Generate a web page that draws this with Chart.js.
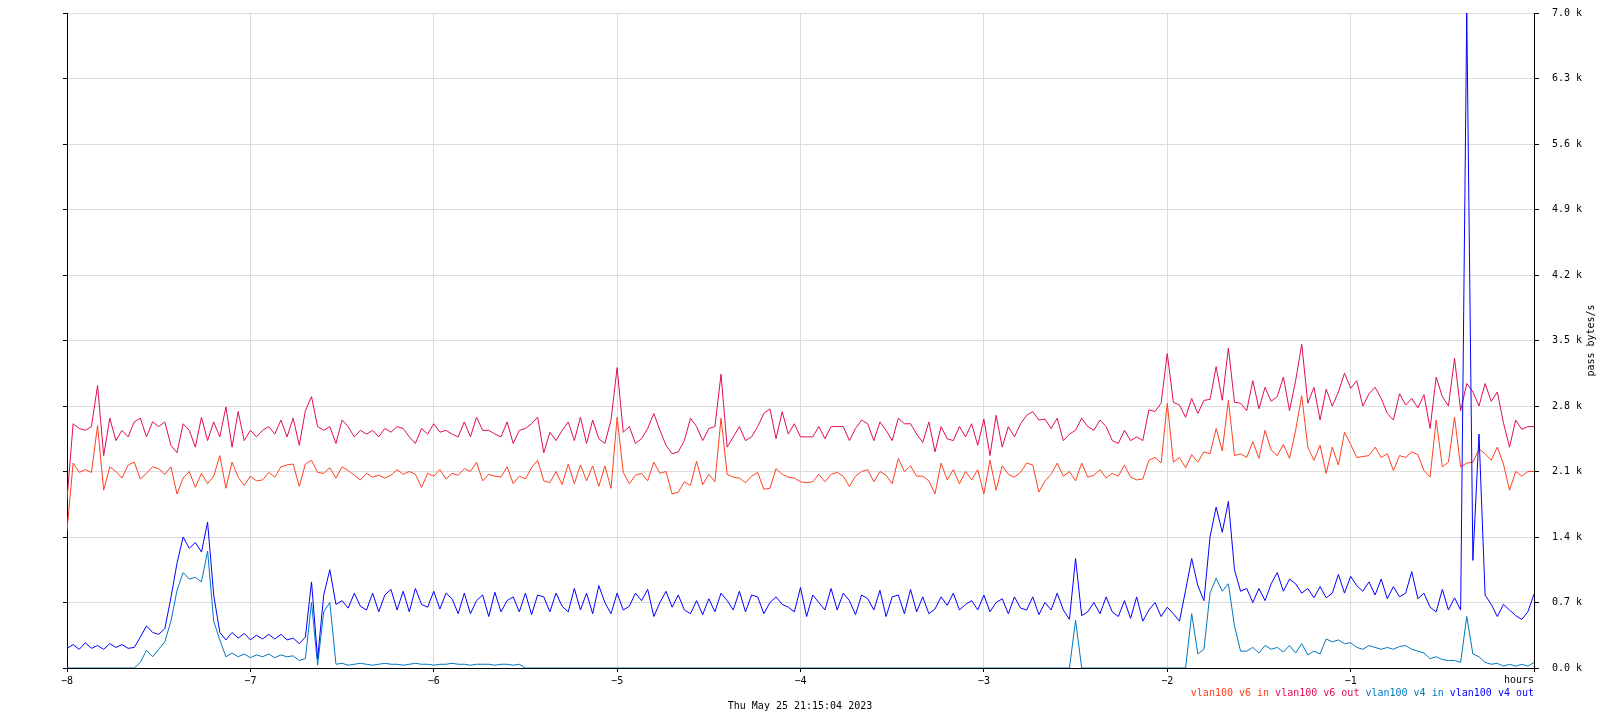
<!DOCTYPE html>
<html>
<head>
<meta charset="utf-8">
<title>vlan100 pass bytes/s</title>
<script src="https://cdn.jsdelivr.net/npm/chart.js@4"></script>
<style>
  html, body { margin: 0; padding: 0; background: #fff; }
  canvas { display: block; }
</style>
</head>
<body>
<canvas id="trafficChart" width="1600" height="720"></canvas>
<script>
// one sample every 2 minutes, last 8 hours (values in k bytes/s)
const hoursStart = -8;
const stepHours = 1 / 30;
const hourTicks = [-8, -7, -6, -5, -4, -3, -2, -1, 0];
const yTickStep = 0.7;
const yMax = 7.0;
const stampText = 'Thu May 25 21:15:04 2023';

const seriesNames = ['vlan100 v6 in', 'vlan100 v6 out', 'vlan100 v4 in', 'vlan100 v4 out'];
const seriesColors = ['#ff4020', '#e00c58', '#0077c0', '#0000ff'];

const v6In = [
	1.47, 2.19, 2.09, 2.12, 2.09, 2.59, 1.90, 2.15, 2.10, 2.03, 2.17, 2.20, 2.02, 2.08, 2.15, 2.13,
	2.07, 2.15, 1.86, 2.03, 2.10, 1.93, 2.08, 1.97, 2.05, 2.27, 1.92, 2.20, 2.04, 1.95, 2.05, 2.00,
	2.01, 2.09, 2.04, 2.15, 2.17, 2.18, 1.94, 2.18, 2.22, 2.09, 2.08, 2.14, 2.03, 2.15, 2.11,
	2.06, 2.01, 2.08, 2.04, 2.06, 2.03, 2.06, 2.12, 2.07, 2.10, 2.07, 1.93, 2.08, 2.05, 2.12, 2.02,
	2.08, 2.06, 2.13, 2.10, 2.20, 2.00, 2.07, 2.05, 2.04, 2.15, 1.97, 2.05, 2.02, 2.14, 2.22, 2.00,
	1.98, 2.10, 1.96, 2.18, 1.97, 2.17, 2.00, 2.16, 1.94, 2.16, 1.92, 2.68, 2.09, 1.97, 2.06,
	2.08, 2.00, 2.20, 2.08, 2.10, 1.86, 1.88, 1.99, 1.95, 2.21, 1.96, 2.07, 1.99, 2.67, 2.07, 2.04,
	2.03, 1.98, 2.05, 2.09, 1.91, 1.92, 2.13, 2.07, 2.04, 2.03, 1.99, 1.98, 1.99, 2.07, 1.99, 2.07,
	2.09, 2.05, 1.94, 2.05, 2.10, 2.12, 1.99, 2.10, 2.06, 1.97, 2.24, 2.10, 2.16, 2.05,
	2.05, 2.00, 1.86, 2.19, 2.01, 2.12, 1.97, 2.10, 2.01, 2.12, 1.86, 2.22, 1.90, 2.16, 2.07, 2.04,
	2.09, 2.19, 2.17, 1.88, 2.00, 2.07, 2.19, 2.05, 2.10, 2.00, 2.19, 2.04, 2.06, 2.12, 2.03, 2.08,
	2.05, 2.17, 2.04, 2.01, 2.02, 2.22, 2.25, 2.19, 2.83, 2.20, 2.25, 2.14, 2.28, 2.20, 2.31,
	2.29, 2.56, 2.32, 2.86, 2.27, 2.29, 2.25, 2.42, 2.24, 2.54, 2.33, 2.27, 2.39, 2.24, 2.54, 2.91,
	2.36, 2.22, 2.38, 2.08, 2.36, 2.17, 2.52, 2.39, 2.25, 2.26, 2.27, 2.36, 2.25, 2.29, 2.11, 2.27,
	2.25, 2.31, 2.28, 2.11, 2.04, 2.65, 2.15, 2.20, 2.68, 2.15, 2.19, 2.20, 2.34, 2.29, 2.22, 2.36,
	2.18, 1.90, 2.10, 2.05, 2.10, 2.10
];

const v6Out = [
	1.80, 2.61, 2.56, 2.54, 2.58, 3.02, 2.27, 2.67, 2.43, 2.54, 2.47, 2.63, 2.67, 2.47, 2.63, 2.58,
	2.63, 2.38, 2.30, 2.61, 2.54, 2.36, 2.68, 2.43, 2.63, 2.47, 2.79, 2.36, 2.74, 2.43, 2.54, 2.47,
	2.54, 2.58, 2.50, 2.65, 2.47, 2.67, 2.38, 2.75, 2.90, 2.58, 2.54, 2.58, 2.40, 2.65, 2.58,
	2.47, 2.54, 2.50, 2.54, 2.47, 2.56, 2.52, 2.58, 2.56, 2.47, 2.40, 2.56, 2.50, 2.61, 2.52, 2.54,
	2.50, 2.47, 2.63, 2.47, 2.68, 2.54, 2.54, 2.50, 2.47, 2.63, 2.40, 2.54, 2.56, 2.61, 2.68, 2.30,
	2.52, 2.43, 2.54, 2.63, 2.43, 2.68, 2.40, 2.65, 2.45, 2.40, 2.65, 3.21, 2.52, 2.58, 2.40,
	2.45, 2.56, 2.72, 2.54, 2.38, 2.29, 2.31, 2.43, 2.67, 2.58, 2.43, 2.56, 2.58, 3.14, 2.36, 2.47,
	2.58, 2.43, 2.47, 2.58, 2.72, 2.77, 2.45, 2.74, 2.50, 2.61, 2.47, 2.47, 2.47, 2.58, 2.45, 2.58,
	2.58, 2.58, 2.43, 2.56, 2.65, 2.61, 2.43, 2.63, 2.54, 2.43, 2.67, 2.61, 2.61, 2.50,
	2.41, 2.63, 2.31, 2.58, 2.45, 2.43, 2.58, 2.47, 2.61, 2.38, 2.66, 2.27, 2.70, 2.36, 2.58, 2.47,
	2.61, 2.70, 2.74, 2.65, 2.66, 2.56, 2.67, 2.43, 2.50, 2.54, 2.67, 2.58, 2.54, 2.65, 2.58, 2.43,
	2.40, 2.54, 2.43, 2.47, 2.43, 2.76, 2.74, 2.83, 3.36, 2.84, 2.81, 2.68, 2.88, 2.72, 2.86,
	2.87, 3.22, 2.86, 3.42, 2.84, 2.83, 2.75, 3.07, 2.77, 3.00, 2.85, 2.90, 3.11, 2.75, 3.07, 3.46,
	2.83, 3.00, 2.65, 2.98, 2.80, 2.95, 3.15, 2.99, 3.07, 2.80, 2.93, 3.00, 2.88, 2.72, 2.65, 2.93,
	2.81, 2.88, 2.78, 2.92, 2.56, 3.11, 2.90, 2.80, 3.31, 2.75, 3.04, 2.95, 2.80, 3.04, 2.85, 2.95,
	2.62, 2.36, 2.65, 2.55, 2.58, 2.58
];

const v4In = [
	0, 0, 0, 0, 0, 0, 0, 0, 0, 0, 0, 0, 0.06, 0.19, 0.12, 0.20,
	0.28, 0.50, 0.83, 1.02, 0.95, 0.97, 0.92, 1.25, 0.50, 0.30, 0.12, 0.16, 0.12, 0.15, 0.11, 0.14,
	0.12, 0.15, 0.11, 0.14, 0.12, 0.13, 0.08, 0.10, 0.70, 0.03, 0.60, 0.70, 0.04, 0.05, 0.03,
	0.04, 0.05, 0.04, 0.03, 0.04, 0.05, 0.04, 0.04, 0.03, 0.04, 0.05, 0.04, 0.04, 0.03, 0.04, 0.04,
	0.05, 0.04, 0.04, 0.03, 0.04, 0.04, 0.04, 0.03, 0.04, 0.04, 0.03, 0.04,
	0, 0, 0, 0, 0, 0, 0, 0, 0, 0, 0, 0, 0, 0, 0,
	0, 0, 0, 0, 0, 0, 0, 0, 0, 0, 0, 0, 0, 0, 0,
	0, 0, 0, 0, 0, 0, 0, 0, 0, 0, 0, 0, 0, 0, 0,
	0, 0, 0, 0, 0, 0, 0, 0, 0, 0, 0, 0, 0, 0, 0,
	0, 0, 0, 0, 0, 0, 0, 0, 0, 0, 0, 0, 0, 0, 0,
	0, 0, 0, 0, 0, 0, 0, 0, 0, 0, 0, 0, 0, 0, 0,
	0.51,
	0, 0, 0, 0, 0, 0, 0, 0, 0, 0, 0, 0, 0, 0, 0, 0, 0, 0,
	0.58, 0.15, 0.20,
	0.80, 0.96, 0.82, 0.90, 0.45, 0.18, 0.18, 0.22, 0.16, 0.24, 0.20, 0.22, 0.17, 0.24, 0.16, 0.26,
	0.14, 0.18, 0.15, 0.31, 0.28, 0.30, 0.26, 0.27, 0.22, 0.20, 0.24, 0.22, 0.20, 0.22, 0.20, 0.23,
	0.24, 0.20, 0.18, 0.16, 0.10, 0.12, 0.09, 0.08, 0.08, 0.06, 0.55, 0.15, 0.12, 0.06, 0.04, 0.05,
	0.02, 0.04, 0.02, 0.04, 0.02, 0.06
];

const v4Out = [
	0.21, 0.25, 0.20, 0.27, 0.21, 0.24, 0.20, 0.26, 0.22, 0.25, 0.21, 0.22, 0.33, 0.45, 0.38, 0.36,
	0.42, 0.75, 1.12, 1.40, 1.28, 1.34, 1.24, 1.56, 0.78, 0.38, 0.30, 0.38, 0.32, 0.37, 0.30, 0.35,
	0.31, 0.36, 0.31, 0.36, 0.30, 0.32, 0.26, 0.33, 0.92, 0.10, 0.78, 1.05, 0.68, 0.72, 0.64,
	0.80, 0.66, 0.62, 0.80, 0.60, 0.78, 0.84, 0.62, 0.82, 0.60, 0.85, 0.68, 0.65, 0.82, 0.63, 0.80,
	0.74, 0.58, 0.80, 0.58, 0.72, 0.78, 0.55, 0.81, 0.60, 0.72, 0.76, 0.60, 0.80, 0.57, 0.78, 0.76,
	0.60, 0.80, 0.66, 0.60, 0.85, 0.62, 0.80, 0.58, 0.88, 0.70, 0.58, 0.80, 0.62, 0.66, 0.80,
	0.72, 0.84, 0.55, 0.70, 0.82, 0.65, 0.78, 0.62, 0.58, 0.72, 0.57, 0.74, 0.60, 0.80, 0.72, 0.62,
	0.82, 0.60, 0.78, 0.76, 0.58, 0.70, 0.76, 0.68, 0.65, 0.60, 0.86, 0.55, 0.78, 0.70, 0.62, 0.85,
	0.62, 0.80, 0.72, 0.57, 0.78, 0.74, 0.62, 0.83, 0.55, 0.76, 0.78, 0.58, 0.84, 0.60,
	0.76, 0.58, 0.63, 0.76, 0.67, 0.80, 0.62, 0.68, 0.72, 0.62, 0.78, 0.60, 0.70, 0.74, 0.58, 0.76,
	0.64, 0.62, 0.76, 0.57, 0.70, 0.62, 0.80, 0.62, 0.52, 1.17, 0.56, 0.60, 0.70, 0.58, 0.76, 0.60,
	0.55, 0.72, 0.53, 0.76, 0.50, 0.62, 0.70, 0.55, 0.65, 0.58, 0.50, 0.83, 1.17, 0.88, 0.72,
	1.40, 1.72, 1.45, 1.78, 1.05, 0.82, 0.85, 0.70, 0.85, 0.72, 0.90, 1.02, 0.82, 0.95, 0.90, 0.80,
	0.85, 0.75, 0.87, 0.75, 0.80, 1.00, 0.80, 0.98, 0.88, 0.82, 0.92, 0.78, 0.95, 0.74, 0.87, 0.76,
	0.80, 1.03, 0.74, 0.80, 0.65, 0.60, 0.84, 0.62, 0.75, 0.62, 7.00, 1.15, 2.50, 0.78, 0.68, 0.55,
	0.68, 0.62, 0.56, 0.52, 0.60, 0.79
];

const seriesValues = [v6In, v6Out, v4In, v4Out];

const monoFont = { family: 'DejaVu Sans Mono', size: 10 };
const gridGray = '#dcdcdc';

function toPoints(vals) {
	return vals.map((v, i) => ({ x: hoursStart + i * stepHours, y: v }));
}

// legend, date stamp, "hours" and the vertical unit label, drawn like rrdtool does
const rrdTexts = {
	id: 'rrdTexts',
	afterDraw(chart) {
		const ctx = chart.ctx;
		const area = chart.chartArea;
		ctx.save();
		ctx.font = '10px "DejaVu Sans Mono"';
		ctx.textBaseline = 'middle';
		ctx.fillStyle = '#000';

		ctx.textAlign = 'right';
		ctx.fillText('hours', area.right, 680);

		ctx.textAlign = 'center';
		ctx.fillText(stampText, chart.width / 2, 706);

		// legend: coloured names in one line, right aligned to the plot
		const gap = ctx.measureText(' ').width;
		let total = 0;
		seriesNames.forEach((n, k) => { total += ctx.measureText(n).width + (k ? gap : 0); });
		let x = area.right - total;
		ctx.textAlign = 'left';
		seriesNames.forEach((n, k) => {
			ctx.fillStyle = seriesColors[k];
			ctx.fillText(n, x, 693);
			x += ctx.measureText(n).width + gap;
		});

		ctx.fillStyle = '#000';
		ctx.translate(1591, (area.top + area.bottom) / 2);
		ctx.rotate(-Math.PI / 2);
		ctx.textAlign = 'center';
		ctx.fillText('pass bytes/s', 0, 0);
		ctx.restore();
	}
};

// keep the plot box where rrdtool puts it, labels may overhang
function fixVertical(width) {
	return (s) => {
		s.width = width;
		s.paddingTop = 0;
		s.paddingBottom = 0;
	};
}

const ctx = document.getElementById('trafficChart').getContext('2d');
new Chart(ctx, {
	type: 'line',
	data: {
		datasets: seriesValues.map((vals, k) => ({
			label: seriesNames[k],
			data: toPoints(vals),
			borderColor: seriesColors[k],
			borderWidth: 1,
			pointRadius: 0,
			tension: 0,
			fill: false,
			order: seriesValues.length - k
		}))
	},
	options: {
		responsive: false,
		animation: false,
		layout: { padding: { top: 13, left: 0, right: 0, bottom: 0 } },
		plugins: {
			legend: { display: false },
			tooltip: { enabled: false }
		},
		scales: {
			x: {
				type: 'linear',
				min: hourTicks[0],
				max: hourTicks[hourTicks.length - 1],
				afterBuildTicks: (s) => { s.ticks = hourTicks.map(v => ({ value: v })); },
				ticks: {
					color: '#000',
					font: monoFont,
					padding: 3,
					maxRotation: 0,
					autoSkip: false,
					callback: (v) => v === 0 ? '' : String(v).replace('-', '\u2212')
				},
				grid: {
					color: (c) => (c.tick && (c.tick.value === hourTicks[0] || c.tick.value === 0)) ? '#000' : gridGray,
					tickColor: '#000',
					tickLength: 4
				},
				border: { color: '#000' },
				afterFit: (s) => { s.height = 52; s.paddingLeft = 0; s.paddingRight = 0; }
			},
			y: {
				type: 'linear',
				position: 'right',
				min: 0,
				max: yMax,
				ticks: {
					stepSize: yTickStep,
					color: '#000',
					font: monoFont,
					padding: 13,
					callback: (v) => v.toFixed(1) + ' k'
				},
				grid: {
					color: (c) => (c.tick && c.tick.value === 0) ? '#000' : gridGray,
					tickColor: '#000',
					tickLength: 5
				},
				border: { color: '#000' },
				afterFit: fixVertical(66)
			},
			yLeft: {
				axis: 'y',
				type: 'linear',
				position: 'left',
				min: 0,
				max: yMax,
				ticks: { stepSize: yTickStep, display: false },
				grid: { drawOnChartArea: false, tickColor: '#000', tickLength: 4 },
				border: { color: '#000' },
				afterFit: fixVertical(67)
			}
		}
	},
	plugins: [rrdTexts]
});
</script>
</body>
</html>
